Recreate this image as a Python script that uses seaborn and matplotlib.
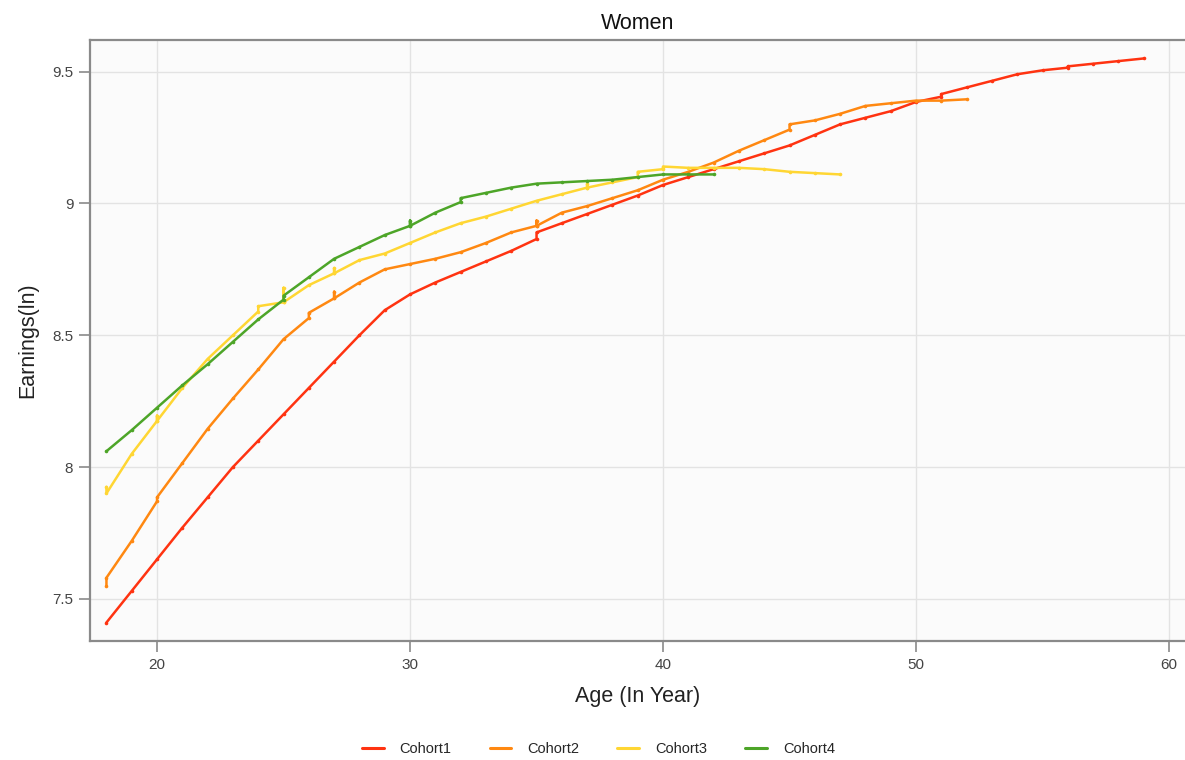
import matplotlib
matplotlib.use("Agg")
import matplotlib.pyplot as plt
from matplotlib.lines import Line2D
from matplotlib.ticker import FuncFormatter
import seaborn as sns
import pandas as pd

# ---- data ----
cohort1_age = [18, 19, 20, 21, 22, 23, 24, 25, 26, 27, 28, 29, 30, 31, 32, 33, 34, 35, 35,
               36, 37, 38, 39, 40, 41, 42, 43, 44, 45, 46, 47, 48, 49, 50, 51, 51, 52, 53,
               54, 55, 56, 56, 57, 58, 59]
cohort1_earn = [7.41, 7.53, 7.65, 7.77, 7.885, 8.00, 8.10, 8.20, 8.30, 8.40, 8.50, 8.595, 8.655,
                8.70, 8.74, 8.78, 8.82, 8.865, 8.89, 8.925, 8.96, 8.995, 9.03, 9.07, 9.10, 9.13,
                9.16, 9.19, 9.22, 9.26, 9.30, 9.325, 9.35, 9.385, 9.405, 9.415, 9.44, 9.465,
                9.49, 9.505, 9.515, 9.52, 9.53, 9.54, 9.55]

cohort2_age = [18, 18, 19, 20, 20, 21, 22, 23, 24, 25, 26, 26, 27, 27, 27, 28, 29, 30, 31, 32,
               33, 34, 35, 35, 35, 36, 37, 38, 39, 40, 41, 42, 43, 44, 45, 45, 46, 47, 48, 49,
               50, 51, 52]
cohort2_earn = [7.55, 7.58, 7.72, 7.87, 7.885, 8.015, 8.145, 8.26, 8.37, 8.485, 8.565, 8.585,
                8.64, 8.665, 8.64, 8.70, 8.75, 8.77, 8.79, 8.815, 8.85, 8.89, 8.915, 8.935,
                8.915, 8.965, 8.99, 9.02, 9.05, 9.09, 9.12, 9.155, 9.20, 9.24, 9.28, 9.30,
                9.315, 9.34, 9.37, 9.38, 9.39, 9.39, 9.395]

cohort3_age = [18, 18, 19, 20, 20, 20, 21, 22, 23, 24, 24, 25, 25, 25, 26, 27, 27, 27, 28, 29,
               30, 31, 32, 33, 34, 35, 36, 37, 37, 37, 38, 39, 39, 40, 40, 41, 42, 43, 44, 45,
               46, 47]
cohort3_earn = [7.925, 7.90, 8.05, 8.175, 8.195, 8.175, 8.30, 8.41, 8.50, 8.59, 8.61, 8.625,
                8.68, 8.625, 8.69, 8.735, 8.755, 8.735, 8.785, 8.81, 8.85, 8.89, 8.925, 8.95,
                8.98, 9.01, 9.035, 9.06, 9.075, 9.06, 9.08, 9.10, 9.12, 9.13, 9.14, 9.135,
                9.135, 9.135, 9.13, 9.12, 9.115, 9.11]

cohort4_age = [18, 19, 20, 21, 22, 23, 24, 25, 25, 26, 27, 28, 29, 30, 30, 30, 31, 32, 32, 33,
               34, 35, 36, 37, 38, 39, 40, 41, 42]
cohort4_earn = [8.06, 8.14, 8.225, 8.31, 8.39, 8.475, 8.56, 8.635, 8.65, 8.72, 8.79, 8.835,
                8.88, 8.915, 8.935, 8.915, 8.965, 9.005, 9.02, 9.04, 9.06, 9.075, 9.08, 9.085,
                9.09, 9.10, 9.11, 9.11, 9.11]

cohort_names = ["Cohort1", "Cohort2", "Cohort3", "Cohort4"]
cohort_colors = ["#FF3311", "#FF8811", "#FFD633", "#4DA528"]

x_ticks = [20, 30, 40, 50, 60]
y_ticks = [7.5, 8, 8.5, 9, 9.5]

# ---- build long table ----
frames = []
for name, ages, vals in zip(cohort_names,
                            [cohort1_age, cohort2_age, cohort3_age, cohort4_age],
                            [cohort1_earn, cohort2_earn, cohort3_earn, cohort4_earn]):
    frames.append(pd.DataFrame({"Age": ages, "Earnings": vals, "Cohort": name}))
df = pd.concat(frames, ignore_index=True)

# ---- style ----
sns.set_style("white", {"xtick.bottom": True, "ytick.left": True})
plt.rcParams["font.family"] = ["Liberation Sans", "DejaVu Sans"]

fig = plt.figure(figsize=(11.85, 7.6), dpi=100)
ax = fig.add_axes([90 / 1185, 1 - 641 / 760, 1095 / 1185, 601 / 760])
ax.set_facecolor("#FBFBFB")

sns.lineplot(data=df, x="Age", y="Earnings", hue="Cohort", hue_order=cohort_names,
             palette=cohort_colors, estimator=None, sort=False, units="Cohort",
             linewidth=1.8, marker="o", markersize=2.6, markeredgewidth=0,
             legend=False, ax=ax)

ax.set_xlim(17.35, 60.63)
ax.set_ylim(7.34, 9.62)
ax.set_xticks(x_ticks)
ax.set_yticks(y_ticks)
ax.yaxis.set_major_formatter(FuncFormatter(lambda v, p: f"{v:g}"))
ax.grid(True, color="#E3E3E3", linewidth=1.0)
ax.set_axisbelow(True)

for side in ["left", "top", "bottom"]:
    ax.spines[side].set_visible(True)
    ax.spines[side].set_color("#8A8A8A")
    ax.spines[side].set_linewidth(1.6)
ax.spines["right"].set_visible(False)

ax.tick_params(axis="both", which="major", direction="out", length=8, width=1.2,
               bottom=True, left=True, top=False, right=False,
               color="#8A8A8A", labelsize=11, labelcolor="#444444", pad=4)

ax.set_title("Women", fontsize=15.5, color="#111111", pad=8)
ax.set_xlabel("Age (In Year)", fontsize=15.5, color="#222222", labelpad=10)
ax.set_ylabel("Earnings(ln)", fontsize=15.5, color="#222222", labelpad=10)

handles = [Line2D([0], [0], color=c, linewidth=2.2) for c in cohort_colors]
fig.legend(handles, cohort_names, loc="lower center", bbox_to_anchor=(0.505, -0.012),
           ncol=4, frameon=False, fontsize=10.5, handlelength=1.5, handletextpad=1.1,
           columnspacing=2.6)

fig.savefig("out.png", dpi=100)
